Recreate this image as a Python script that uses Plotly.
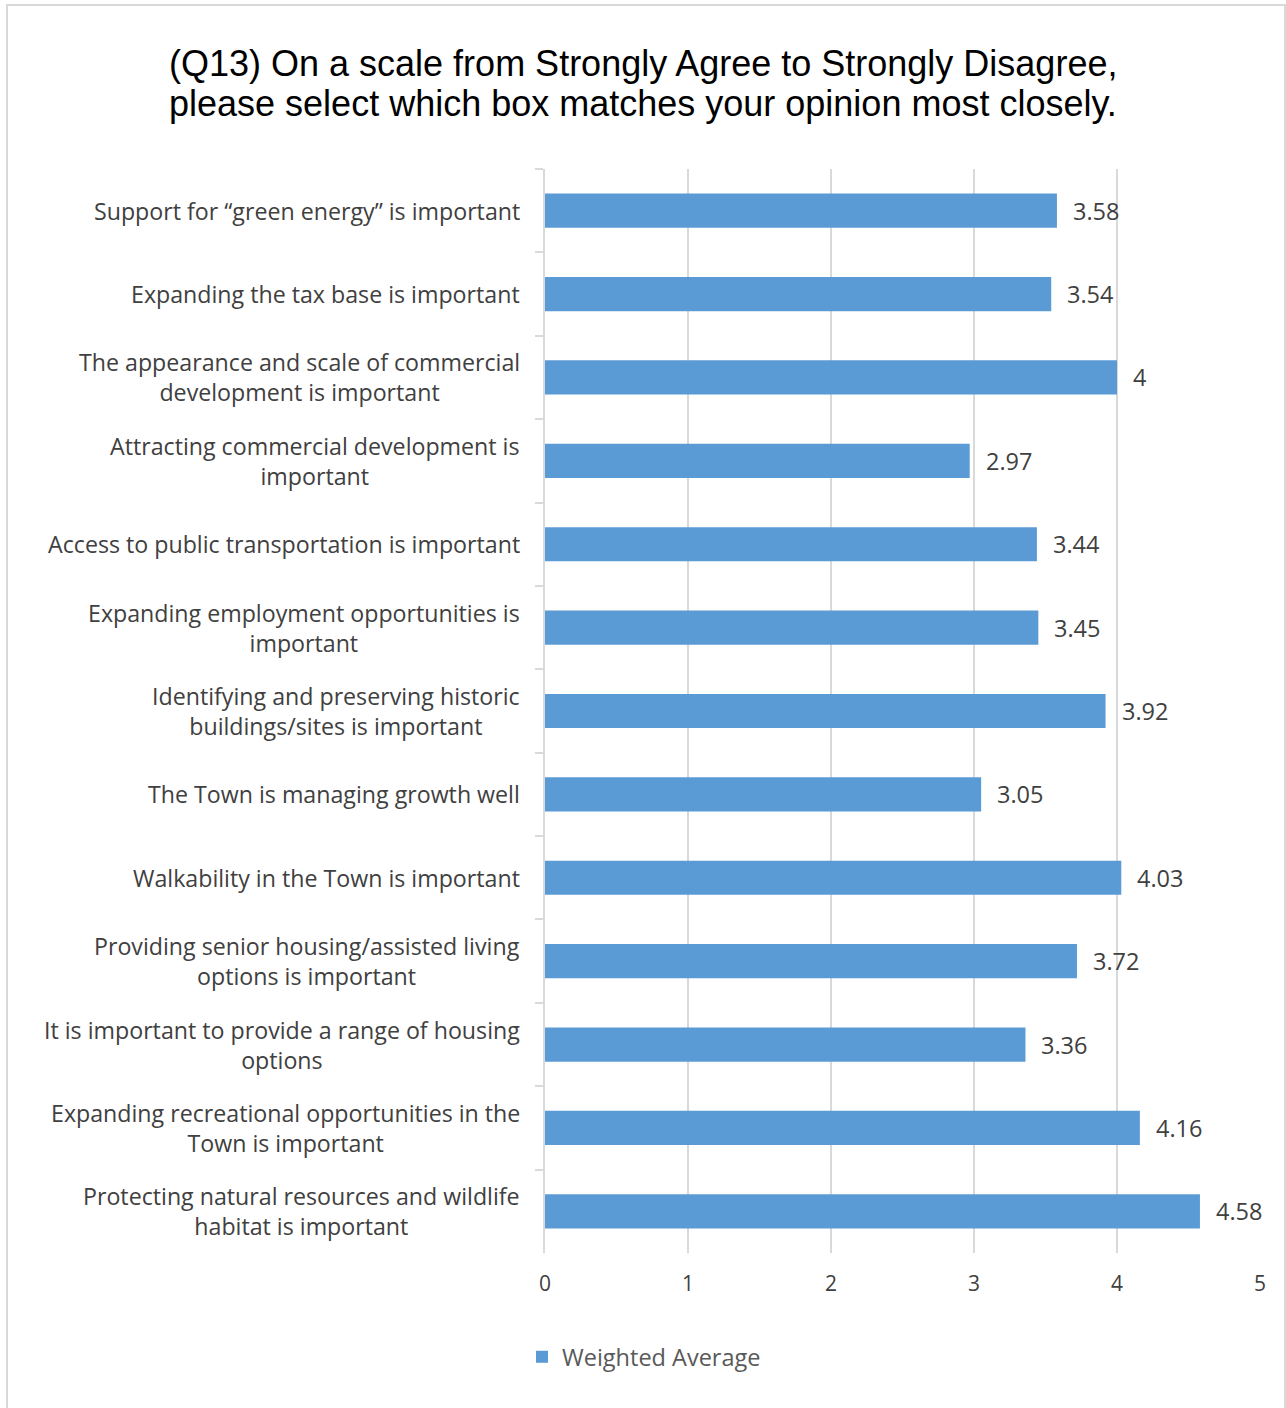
import plotly.graph_objects as go

# Survey statements (top to bottom) and their weighted average scores
statements = [
    "Support for “green energy” is important",
    "Expanding the tax base is important",
    "The appearance and scale of commercial<br>development is important",
    "Attracting commercial development is<br>important",
    "Access to public transportation is important",
    "Expanding employment opportunities is<br>important",
    "Identifying and preserving historic<br>buildings/sites is important",
    "The Town is managing growth well",
    "Walkability in the Town is important",
    "Providing senior housing/assisted living<br>options is important",
    "It is important to provide a range of housing<br>options",
    "Expanding recreational opportunities in the<br>Town is important",
    "Protecting natural resources and wildlife<br>habitat is important",
]
weighted_avg = [3.58, 3.54, 4, 2.97, 3.44, 3.45, 3.92, 3.05, 4.03, 3.72, 3.36, 4.16, 4.58]
x_ticks = [0, 1, 2, 3, 4, 5]
title_lines = [
    "(Q13) On a scale from Strongly Agree to Strongly Disagree,",
    "please select which box matches your opinion most closely.",
]

W, H = 1286, 1408
L, R, T, B = 545, 1260, 169, 1253  # plot area in pixels
pw, ph = R - L, B - T

BAR_COLOR = "#5B9BD5"
TEXT_COLOR = "#404040"
GRID_COLOR = "#D9D9D9"
BODY_FONT = "Open Sans"

fig = go.Figure()
fig.add_trace(go.Bar(
    x=weighted_avg,
    y=statements,
    orientation="h",
    name="Weighted Average",
    marker=dict(color=BAR_COLOR, line=dict(width=0)),
    width=0.41,
    hoverinfo="x+y",
))

annotations = []
# two-line chart title, each line placed at its own pixel height
for line, yc in zip(title_lines, [63, 104]):
    annotations.append(dict(
        x=(W / 2 - L) / pw, y=(B - yc) / ph, xref="paper", yref="paper",
        text=line, showarrow=False, xanchor="center", yanchor="middle",
        font=dict(family="Liberation Sans, Arial", size=36, color="black"),
    ))
# value labels to the right of each bar
for s, v in zip(statements, weighted_avg):
    annotations.append(dict(
        x=v, y=s, xref="x", yref="y", text=f"{v:g}",
        showarrow=False, xanchor="left", yanchor="middle", xshift=14,
        font=dict(family=BODY_FONT, size=23.5, color=TEXT_COLOR),
    ))
# category labels: right-aligned block, lines centred within it
for s in statements:
    annotations.append(dict(
        x=0, y=s, xref="paper", yref="y", text=s,
        showarrow=False, xanchor="right", yanchor="middle", xshift=-23,
        align="center",
        font=dict(family=BODY_FONT, size=23.2, color=TEXT_COLOR),
    ))

fig.update_layout(
    width=W, height=H,
    margin=dict(l=L, r=W - R, t=T, b=H - B, pad=0),
    paper_bgcolor="white", plot_bgcolor="white",
    xaxis=dict(
        range=[0, 5], tickvals=x_ticks, showgrid=True, gridcolor=GRID_COLOR,
        gridwidth=2, zeroline=False, showline=False, ticks="",
        tickfont=dict(family=BODY_FONT, size=21, color=TEXT_COLOR),
        ticklabelstandoff=16, fixedrange=True,
    ),
    yaxis=dict(
        autorange="reversed", showticklabels=False, showgrid=False,
        showline=True, linecolor=GRID_COLOR, linewidth=2,
        ticks="outside", tickson="boundaries", ticklen=8,
        tickcolor=GRID_COLOR, tickwidth=2, fixedrange=True,
    ),
    showlegend=True,
    legend=dict(
        orientation="h", x=(522 - L) / pw, xanchor="left",
        y=(B - 1357) / ph, yanchor="middle",
        font=dict(family=BODY_FONT, size=23.5, color="#595959"),
        itemwidth=30,
    ),
    annotations=annotations,
    shapes=[dict(
        type="rect", xref="paper", yref="paper",
        x0=(7 - L) / pw, x1=(1285 - L) / pw,
        y0=(B - 1412) / ph, y1=(B - 5) / ph,
        line=dict(color=GRID_COLOR, width=2), fillcolor="rgba(0,0,0,0)",
        layer="below",
    )],
)

fig.write_html("out.html")
